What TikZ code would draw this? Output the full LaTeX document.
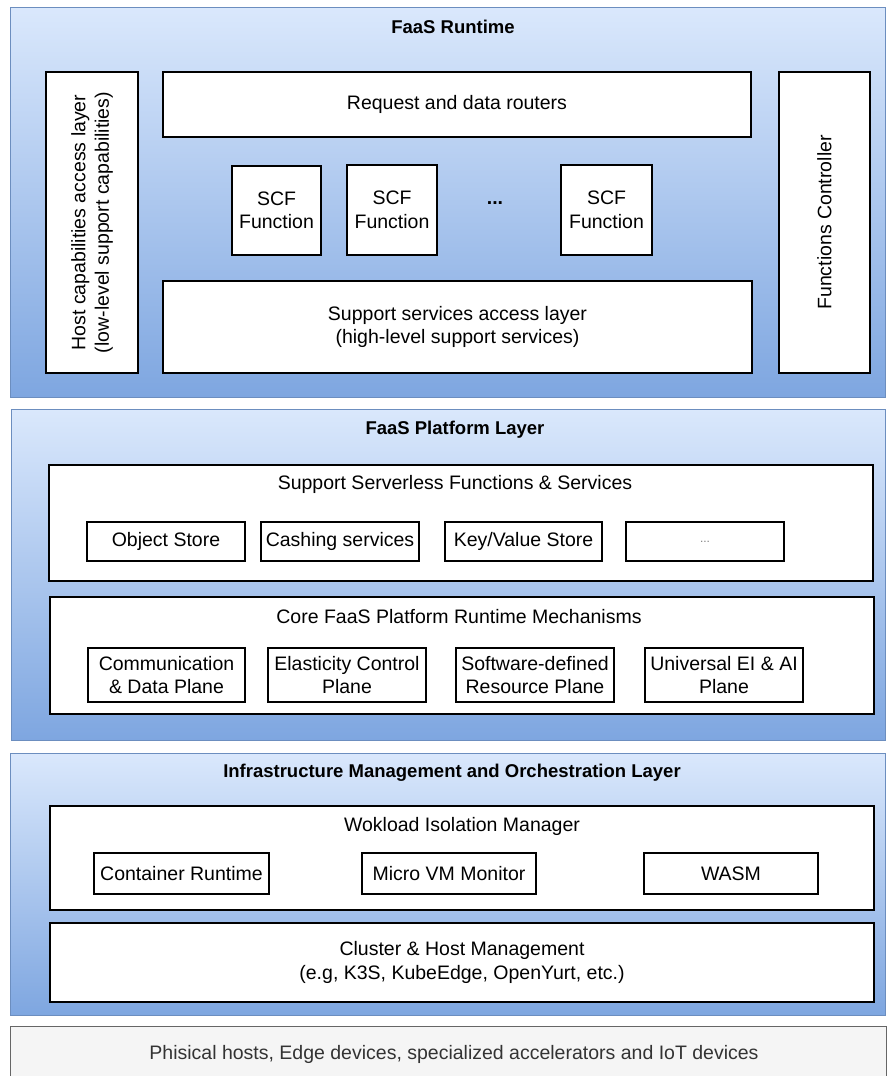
\documentclass[tikz,border=0pt]{standalone}
\usepackage{fontspec}
\setmainfont{Liberation Sans}
\definecolor{gtop}{HTML}{DAE8FC}
\definecolor{gbot}{HTML}{7EA6E0}
\definecolor{gborder}{HTML}{6C8EBF}
\definecolor{physfill}{HTML}{F5F5F5}
\definecolor{physdraw}{HTML}{666666}
\definecolor{phystext}{HTML}{333333}
\begin{document}
\begin{tikzpicture}[x=1pt,y=-1pt,
  layer/.style={draw=gborder,line width=1pt,top color=gtop,bottom color=gbot,inner sep=0pt},
  wbox/.style={draw=black,line width=1.3pt,fill=white,inner sep=0pt,align=center,font=\fontsize{19.5}{23.5}\selectfont},
  sbox/.style={draw=black,line width=2pt,fill=white,inner sep=0pt,align=center,font=\fontsize{19.5}{23.5}\selectfont},
  ttl/.style={font=\fontsize{18.5}{22}\selectfont\bfseries,inner sep=0pt},
  txt/.style={font=\fontsize{19.5}{23.5}\selectfont,inner sep=0pt,align=center},
  sz/.style 2 args={minimum width=#1,minimum height=#2}]
\useasboundingbox (0,0) rectangle (886,1076);

% ---------- FaaS Runtime ----------
\node[layer,sz={875pt}{390pt}] (L1) at (447.5,202) {};
\node[ttl] (L1t) at (453,27) {FaaS Runtime};
\node[wbox,sz={92pt}{301pt}] (host) at (92,222.5) {};
\node[txt,rotate=90] (hostt) at (92,222.5) {Host capabilities access layer\\(low-level support capabilities)};
\node[wbox,sz={588pt}{65pt}] (req) at (457,104.5) {Request and data routers};
\node[wbox,sz={89pt}{89pt}] (scf1) at (276.5,210.5) {SCF\\Function};
\node[wbox,sz={90pt}{90pt}] (scf2) at (392,210) {SCF\\Function};
\node[txt,font=\fontsize{19.5}{23.5}\selectfont\bfseries] (dots) at (495,203) {...};
\node[wbox,sz={91pt}{90pt}] (scf3) at (606.5,210) {SCF\\Function};
\node[wbox,sz={589pt}{92pt}] (ssal) at (457.5,327) {Support services access layer\\(high-level support services)};
\node[wbox,sz={91pt}{301pt}] (fc) at (824.5,222.5) {};
\node[txt,rotate=90] (fct) at (824.5,222.5) {Functions Controller};

% ---------- FaaS Platform Layer ----------
\node[layer,sz={874pt}{331pt}] (L2) at (448,574.5) {};
\node[ttl] (L2t) at (455,430) {FaaS Platform Layer};
\node[wbox,sz={824pt}{116pt}] (ssfs) at (461,523) {};
\node[txt] (ssfst) at (455,484) {Support Serverless Functions \& Services};
\node[sbox,sz={158pt}{39pt}] (obj) at (166,541.5) {Object Store};
\node[sbox,sz={158pt}{39pt}] (cash) at (340,541.5) {Cashing services};
\node[sbox,sz={157pt}{39pt}] (kv) at (523.5,541.5) {Key/Value Store};
\node[sbox,sz={158pt}{39pt},font=\fontsize{12}{14}\selectfont,text=gray] (more) at (705,541.5) {...};
\node[wbox,sz={824pt}{117pt}] (core) at (462,655.5) {};
\node[txt] (coret) at (459,617) {Core FaaS Platform Runtime Mechanisms};
\node[sbox,sz={157pt}{54pt}] (comm) at (166.5,675) {Communication\\\& Data Plane};
\node[sbox,sz={158pt}{54pt}] (elast) at (347,675) {Elasticity Control\\Plane};
\node[sbox,sz={158pt}{54pt}] (soft) at (535,675) {Software-defined\\Resource Plane};
\node[sbox,sz={158pt}{54pt}] (univ) at (724,675) {Universal EI \& AI\\Plane};

% ---------- Infrastructure Management ----------
\node[layer,sz={875pt}{262pt}] (L3) at (447.5,884) {};
\node[ttl] (L3t) at (452,773) {Infrastructure Management and Orchestration Layer};
\node[wbox,sz={824pt}{104pt}] (wim) at (462,858) {};
\node[txt] (wimt) at (462,826) {Wokload Isolation Manager};
\node[sbox,sz={175pt}{41pt}] (cont) at (181.5,873.5) {Container Runtime};
\node[sbox,sz={174pt}{41pt}] (mvm) at (449,873.5) {Micro VM Monitor};
\node[sbox,sz={174pt}{41pt}] (wasm) at (731,873.5) {WASM};
\node[wbox,sz={824pt}{79pt}] (chm) at (462,962.5) {Cluster \& Host Management\\(e.g, K3S, KubeEdge, OpenYurt, etc.)};

% ---------- Physical ----------
\node[draw=physdraw,line width=1pt,fill=physfill,inner sep=0pt,sz={876pt}{60pt}] (phys) at (448,1056) {};
\node[txt,text=phystext] (physt) at (454,1054) {Phisical hosts, Edge devices, specialized accelerators and IoT devices};
\end{tikzpicture}
\end{document}
